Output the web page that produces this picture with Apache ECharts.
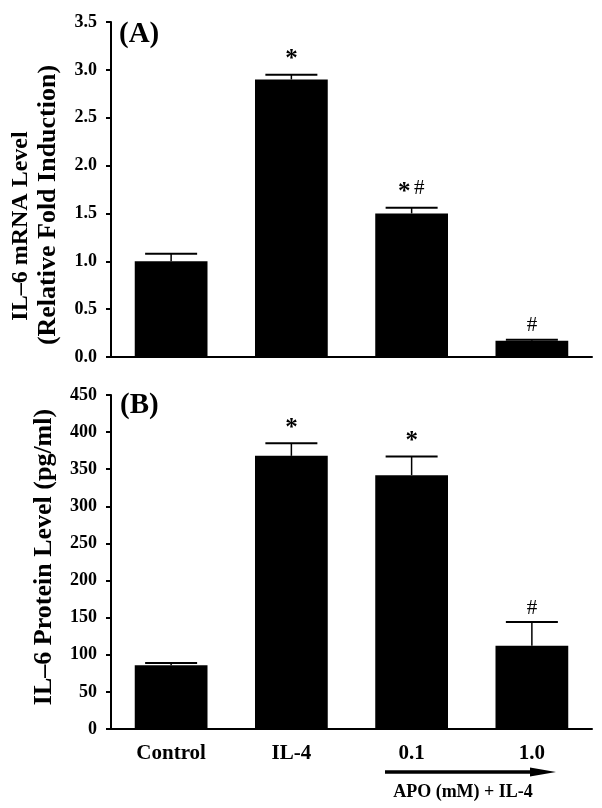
<!DOCTYPE html>
<html>
<head>
<meta charset="utf-8">
<script src="https://cdn.jsdelivr.net/npm/echarts@6/dist/echarts.min.js"></script>
<style>html,body{margin:0;padding:0;background:#fff;}#c{width:602px;height:808px;}</style>
</head>
<body>
<div id="c"></div>
<script>
const categories = ['Control', 'IL-4', '0.1', '1.0'];
const mrnaMean = [1.0, 2.9, 1.5, 0.17];
const mrnaErr = [0.08, 0.05, 0.06, 0.01];
const mrnaSig = ['', '*', '*#', '#'];
const proteinMean = [86, 368, 342, 112];
const proteinErr = [3, 17, 25, 32];
const proteinSig = ['', '*', '*', '#'];
const mrnaTicks = ['0.0', '0.5', '1.0', '1.5', '2.0', '2.5', '3.0', '3.5'];
const proteinTicks = ['0', '50', '100', '150', '200', '250', '300', '350', '400', '450'];

const FONT = '"Liberation Serif", "Times New Roman", serif';
const chart = echarts.init(document.getElementById('c'), null, {renderer: 'canvas'});

function errRender(sigArr) {
  return function (params, api) {
    const idx = api.value(0), mean = api.value(1), err = api.value(2);
    const top = api.coord([idx, mean]);
    const cap = api.coord([idx, mean + err]);
    const half = 26;
    const children = [
      {type: 'line', shape: {x1: top[0], y1: top[1], x2: cap[0], y2: cap[1]}, style: {stroke: '#000', lineWidth: 1.5}},
      {type: 'line', shape: {x1: cap[0] - half, y1: cap[1], x2: cap[0] + half, y2: cap[1]}, style: {stroke: '#000', lineWidth: 2}}
    ];
    const sig = sigArr[params.dataIndex] || '';
    const n = sig.length;
    const hasStar = sig.indexOf('*') >= 0;
    for (let k = 0; k < n; k++) {
      const ch = sig[k];
      const dx = (k - (n - 1) / 2) * 15;
      const isStar = ch === '*';
      children.push({
        type: 'text',
        style: {
          text: ch,
          x: cap[0] + dx,
          y: cap[1] - (isStar ? 15 : (hasStar ? 19 : 14)),
          align: 'center',
          verticalAlign: 'middle',
          fontFamily: FONT,
          fontWeight: isStar ? 'bold' : 'normal',
          fontSize: isStar ? 25 : 21,
          fill: '#000'
        }
      });
    }
    return {type: 'group', children: children};
  };
}

const axisLine = {show: true, lineStyle: {color: '#000', width: 2}};
const yLabel = {fontFamily: FONT, fontWeight: 'bold', fontSize: 18, color: '#000', margin: 14};

chart.setOption({
  animation: false,
  backgroundColor: '#fff',
  grid: [
    {left: 111, right: 10, top: 22, height: 335},
    {left: 111, right: 10, top: 395, height: 334}
  ],
  xAxis: [
    {type: 'category', gridIndex: 0, data: categories, axisLine: axisLine, axisTick: {show: false}, axisLabel: {show: false}},
    {type: 'category', gridIndex: 1, data: categories, axisLine: axisLine, axisTick: {show: false},
      axisLabel: {fontFamily: FONT, fontWeight: 'bold', fontSize: 21, color: '#000', margin: 14}}
  ],
  yAxis: [
    {type: 'value', gridIndex: 0, min: 0, max: 3.5, interval: 0.5, axisLine: axisLine,
      axisTick: {show: true, length: 5, lineStyle: {color: '#000', width: 2}}, splitLine: {show: false},
      axisLabel: Object.assign({}, yLabel, {formatter: v => mrnaTicks[Math.round(v / 0.5)]})},
    {type: 'value', gridIndex: 1, min: 0, max: 450, interval: 50, axisLine: axisLine,
      axisTick: {show: true, length: 5, lineStyle: {color: '#000', width: 2}}, splitLine: {show: false},
      axisLabel: Object.assign({}, yLabel, {formatter: v => proteinTicks[Math.round(v / 50)]})}
  ],
  series: [
    {type: 'bar', xAxisIndex: 0, yAxisIndex: 0, data: mrnaMean, barWidth: '60.5%', itemStyle: {color: '#000'}},
    {type: 'custom', xAxisIndex: 0, yAxisIndex: 0, renderItem: errRender(mrnaSig), clip: false, z: 5,
      encode: {x: 0, y: 1}, data: mrnaMean.map((v, i) => [i, v, mrnaErr[i]])},
    {type: 'bar', xAxisIndex: 1, yAxisIndex: 1, data: proteinMean, barWidth: '60.5%', itemStyle: {color: '#000'}},
    {type: 'custom', xAxisIndex: 1, yAxisIndex: 1, renderItem: errRender(proteinSig), clip: false, z: 5,
      encode: {x: 0, y: 1}, data: proteinMean.map((v, i) => [i, v, proteinErr[i]])}
  ],
  graphic: [
    {type: 'text', x: 119, y: 35, style: {text: '(A)', fontFamily: FONT, fontWeight: 'bold', fontSize: 29, fill: '#000', align: 'left', verticalAlign: 'middle'}},
    {type: 'text', x: 120, y: 406, style: {text: '(B)', fontFamily: FONT, fontWeight: 'bold', fontSize: 29, fill: '#000', align: 'left', verticalAlign: 'middle'}},
    {type: 'text', x: 21, y: 226, rotation: Math.PI / 2, style: {text: 'IL–6 mRNA Level', fontFamily: FONT, fontWeight: 'bold', fontSize: 24, fill: '#000', align: 'center', verticalAlign: 'middle'}},
    {type: 'text', x: 48, y: 205, rotation: Math.PI / 2, style: {text: '(Relative Fold Induction)', fontFamily: FONT, fontWeight: 'bold', fontSize: 26, fill: '#000', align: 'center', verticalAlign: 'middle'}},
    {type: 'text', x: 44, y: 557, rotation: Math.PI / 2, style: {text: 'IL–6 Protein Level (pg/ml)', fontFamily: FONT, fontWeight: 'bold', fontSize: 26, fill: '#000', align: 'center', verticalAlign: 'middle'}},
    {type: 'line', shape: {x1: 385, y1: 772, x2: 540, y2: 772}, style: {stroke: '#000', lineWidth: 3.5}},
    {type: 'polygon', shape: {points: [[530, 767.5], [556, 772], [530, 776.5]]}, style: {fill: '#000'}},
    {type: 'text', x: 463, y: 792, style: {text: 'APO (mM) + IL-4', fontFamily: FONT, fontWeight: 'bold', fontSize: 18, fill: '#000', align: 'center', verticalAlign: 'middle'}}
  ]
});
</script>
</body>
</html>
